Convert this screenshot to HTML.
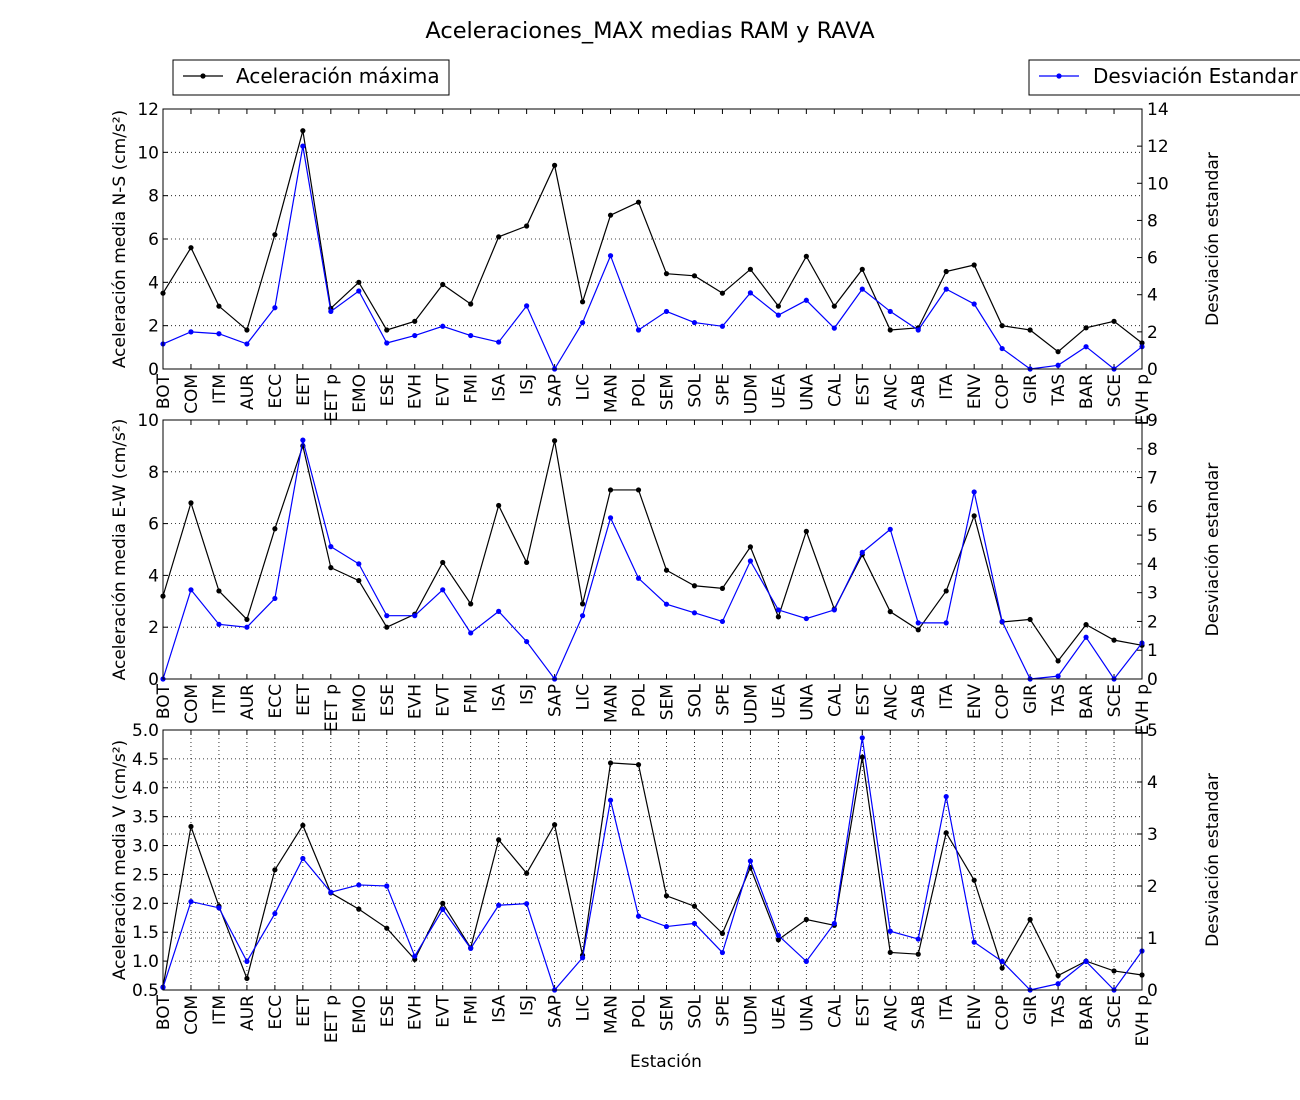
<!DOCTYPE html>
<html><head><meta charset="utf-8"><style>
body{margin:0;background:#fff;}
svg{display:block;font-family:"DejaVu Sans","Liberation Sans",sans-serif;}
</style></head><body>
<svg id="c" width="1300" height="1100"></svg>
<script>
const categories=["BOT","COM","ITM","AUR","ECC","EET","EET p","EMO","ESE","EVH","EVT","FMI","ISA","ISJ","SAP","LIC","MAN","POL","SEM","SOL","SPE","UDM","UEA","UNA","CAL","EST","ANC","SAB","ITA","ENV","COP","GIR","TAS","BAR","SCE","EVH p"];
const nsMax=[3.5,5.6,2.9,1.8,6.2,11.0,2.8,4.0,1.8,2.2,3.9,3.0,6.1,6.6,9.4,3.1,7.1,7.7,4.4,4.3,3.5,4.6,2.9,5.2,2.9,4.6,1.8,1.9,4.5,4.8,2.0,1.8,0.8,1.9,2.2,1.2];
const nsStd=[1.35,2.0,1.9,1.35,3.3,12.0,3.1,4.2,1.4,1.8,2.3,1.8,1.45,3.4,0,2.5,6.1,2.1,3.1,2.5,2.3,4.1,2.9,3.7,2.2,4.3,3.1,2.1,4.3,3.5,1.1,0,0.2,1.2,0,1.2];
const ewMax=[3.2,6.8,3.4,2.3,5.8,9.0,4.3,3.8,2.0,2.5,4.5,2.9,6.7,4.5,9.2,2.9,7.3,7.3,4.2,3.6,3.5,5.1,2.4,5.7,2.7,4.8,2.6,1.9,3.4,6.3,2.2,2.3,0.7,2.1,1.5,1.3];
const ewStd=[0,3.1,1.9,1.8,2.8,8.3,4.6,4.0,2.2,2.2,3.1,1.6,2.35,1.3,0,2.2,5.6,3.5,2.6,2.3,2.0,4.1,2.4,2.1,2.4,4.4,5.2,1.95,1.95,6.5,2.0,0,0.1,1.45,0,1.25];
const vMax=[0.55,3.33,1.95,0.7,2.58,3.35,2.18,1.9,1.57,1.03,2.0,1.23,3.1,2.52,3.36,1.1,4.43,4.4,2.13,1.95,1.48,2.62,1.37,1.72,1.62,4.53,1.15,1.12,3.22,2.4,0.88,1.72,0.75,1.0,0.83,0.76];
const vStd=[0.05,1.7,1.58,0.55,1.47,2.53,1.88,2.02,2.0,0.65,1.55,0.8,1.63,1.66,0,0.62,3.65,1.42,1.22,1.28,0.72,2.48,1.05,0.55,1.28,4.85,1.13,0.98,3.72,0.92,0.55,0,0.12,0.55,0,0.75];
const nsLeftTicks=[0,2,4,6,8,10,12], nsRightTicks=[0,2,4,6,8,10,12,14];
const ewLeftTicks=[0,2,4,6,8,10], ewRightTicks=[0,1,2,3,4,5,6,7,8,9];
const vLeftTicks=[0.5,1.0,1.5,2.0,2.5,3.0,3.5,4.0,4.5,5.0], vRightTicks=[0,1,2,3,4,5];

const svg=document.getElementById('c');const NS='http://www.w3.org/2000/svg';
function mk(t,a,p){const e=document.createElementNS(NS,t);for(const k in a)e.setAttribute(k,a[k]);(p||svg).appendChild(e);return e;}
function txt(s,a,p){const e=mk('text',a,p);e.textContent=s;return e;}
const X0=163,X1=1142;
const xs=i=>X0+(X1-X0)*i/(categories.length-1);
const FS=17;
const panels=[
 {name:'ns',top:109,bot:369,lmin:0,lmax:12,rmin:0,rmax:14,lt:nsLeftTicks,rt:nsRightTicks,lf:v=>String(v),rf:v=>String(v),a:nsMax,b:nsStd,yl:'Aceleración media N-S (cm/s²)',vgrid:false,rgrid:false},
 {name:'ew',top:420,bot:679,lmin:0,lmax:10,rmin:0,rmax:9,lt:ewLeftTicks,rt:ewRightTicks,lf:v=>String(v),rf:v=>String(v),a:ewMax,b:ewStd,yl:'Aceleración media E-W (cm/s²)',vgrid:false,rgrid:false},
 {name:'v',top:730,bot:990,lmin:0.5,lmax:5,rmin:0,rmax:5,lt:vLeftTicks,rt:vRightTicks,lf:v=>v.toFixed(1),rf:v=>String(v),a:vMax,b:vStd,yl:'Aceleración media V (cm/s²)',vgrid:true,rgrid:true}
];
panels.forEach(P=>{
 const g=mk('g',{});
 
 
 const yl=v=>P.bot-(v-P.lmin)/(P.lmax-P.lmin)*(P.bot-P.top);
 const yr=v=>P.bot-(v-P.rmin)/(P.rmax-P.rmin)*(P.bot-P.top);
 if(P.vgrid)categories.forEach((c,i)=>mk('line',{x1:xs(i),x2:xs(i),y1:P.top,y2:P.bot,stroke:'#000','stroke-width':0.8,'stroke-dasharray':'1,3'},g));
 P.lt.forEach(v=>{mk('line',{x1:X0,x2:X1,y1:yl(v),y2:yl(v),stroke:'#000','stroke-width':0.8,'stroke-dasharray':'1,3'},g);
  mk('line',{x1:X0,x2:X0+5,y1:yl(v),y2:yl(v),stroke:'#000'},g);
  const t=txt(P.lf(v),{x:X0-4,y:yl(v)+6,'text-anchor':'end','font-size':FS},g);});
 P.rt.forEach(v=>{if(P.rgrid)mk('line',{x1:X0,x2:X1,y1:yr(v),y2:yr(v),stroke:'#000','stroke-width':0.8,'stroke-dasharray':'1,3'},g);
  mk('line',{x1:X1-5,x2:X1,y1:yr(v),y2:yr(v),stroke:'#000'},g);
  const t=txt(P.rf(v),{x:X1+5,y:yr(v)+6,'font-size':FS},g);});
 categories.forEach((c,i)=>{mk('line',{x1:xs(i),x2:xs(i),y1:P.bot,y2:P.bot-5,stroke:'#000'},g);mk('line',{x1:xs(i),x2:xs(i),y1:P.top,y2:P.top+5,stroke:'#000'},g);
  const t=txt(c,{transform:`translate(${xs(i)+6},${P.bot+5}) rotate(-90)`,'text-anchor':'end','font-size':FS},g);});
 [[P.a,'#000',yl,'max'],[P.b,'#0000ff',yr,'std']].forEach(([d,col,f,n])=>{
  const pl=mk('polyline',{points:d.map((v,i)=>xs(i)+','+f(v)).join(' '),fill:'none',stroke:col,'stroke-width':1.2},g);
  
  d.forEach((v,i)=>{const c=mk('circle',{cx:xs(i),cy:f(v),r:2.6,fill:col},g);});
 });
 mk('rect',{x:X0,y:P.top,width:X1-X0,height:P.bot-P.top,fill:'none',stroke:'#000','stroke-width':1},g);
 const a=txt(P.yl,{transform:`translate(125,${(P.top+P.bot)/2}) rotate(-90)`,'text-anchor':'middle','font-size':FS},g);
 const b=txt('Desviación estandar',{transform:`translate(1218,${(P.top+P.bot)/2}) rotate(-90)`,'text-anchor':'middle','font-size':FS},g);
});
let t=txt('Aceleraciones_MAX medias RAM y RAVA',{x:650,y:38,'text-anchor':'middle','font-size':22.5});
t=txt('Estación',{x:666,y:1067,'text-anchor':'middle','font-size':FS});
let lg=mk('g',{});
mk('rect',{x:173,y:60,width:276,height:35,fill:'#fff',stroke:'#000'},lg);
mk('line',{x1:183,x2:223,y1:76,y2:76,stroke:'#000','stroke-width':1.2},lg);mk('circle',{cx:203,cy:76,r:2.6,fill:'#000'},lg);
txt('Aceleración máxima',{x:236,y:83,'font-size':20},lg);
lg=mk('g',{});
mk('rect',{x:1029,y:60,width:290,height:35,fill:'#fff',stroke:'#000'},lg);
mk('line',{x1:1039,x2:1079,y1:76,y2:76,stroke:'#0000ff','stroke-width':1.2},lg);mk('circle',{cx:1059,cy:76,r:2.6,fill:'#0000ff'},lg);
txt('Desviación Estandar',{x:1093,y:83,'font-size':20},lg);
</script>
</body></html>
